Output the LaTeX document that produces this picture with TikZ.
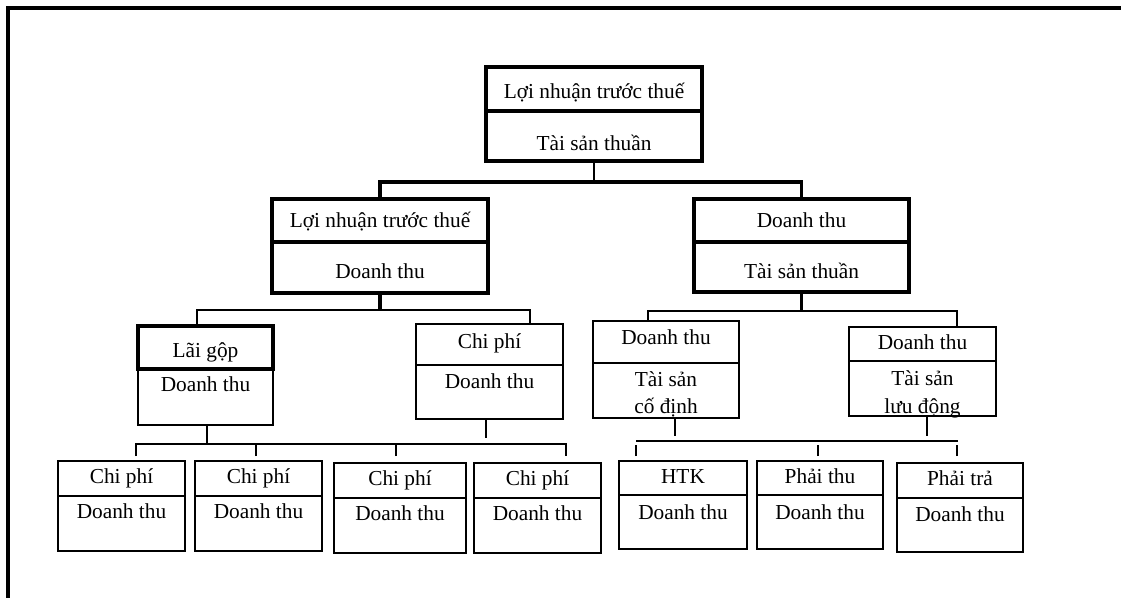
\documentclass[tikz,border=0pt]{standalone}
\usepackage{fontspec}
\setmainfont{Liberation Serif}
\usetikzlibrary{calc}

% two-part box: name, style, left, top, divider, right, bottom (in px units)
\newcommand{\twobox}[7]{%
  \node[partbox,#2,anchor=north west,
        minimum width={(#6-#3)*0.75pt},minimum height={(#7-#4)*0.75pt}] (#1) at (#3,#4) {};
  \draw[#2] (#1.west |- 0,#5) -- (#1.east |- 0,#5);
}

\begin{document}
\begin{tikzpicture}[x=0.75pt,y=-0.75pt,
  thinline/.style={line width=1.15pt},
  thickline/.style={line width=2.4pt},
  partbox/.style={draw,rectangle,inner sep=0pt,outer sep=0pt},
  lbl/.style={anchor=base,inner sep=0pt,font=\fontsize{16}{19}\selectfont},
]
\useasboundingbox (0,0) rectangle (1121,597);

% page frame (top and left edges)
\draw[line width=2.6pt] (8,600) -- (8,8) -- (1125,8);

% ---- level 1
\twobox{T}{thickline}{486}{67}{111}{702}{161}
\node[lbl] (tT1) at (594,98) {Lợi nhuận trước thuế};
\node[lbl] (tT2) at (594,150) {Tài sản thuần};

% ---- level 2
\twobox{M1}{thickline}{272}{199}{242}{488}{293}
\node[lbl] (tM1a) at (380,227) {Lợi nhuận trước thuế};
\node[lbl] (tM1b) at (380,278) {Doanh thu};

\twobox{M2}{thickline}{694}{199}{242}{909}{292}
\node[lbl] (tM2a) at (801.5,227) {Doanh thu};
\node[lbl] (tM2b) at (801.5,278) {Tài sản thuần};

% ---- level 3
\twobox{LG}{thinline}{138}{326}{369}{273}{425}
\draw[thickline] (LG.north west) rectangle (LG.east |- 0,369);
\node[lbl] (tLGa) at (205.5,357) {Lãi gộp};
\node[lbl] (tLGb) at (205.5,391) {Doanh thu};

\twobox{CP}{thinline}{416}{324}{365}{563}{419}
\node[lbl] (tCPa) at (489.5,348) {Chi phí};
\node[lbl] (tCPb) at (489.5,388) {Doanh thu};

\twobox{CD}{thinline}{593}{321}{363}{739}{418}
\node[lbl] (tCDa) at (666,344) {Doanh thu};
\node[lbl] (tCDb) at (666,386) {Tài sản};
\node[lbl] (tCDc) at (666,413) {cố định};

\twobox{LD}{thinline}{849}{327}{361}{996}{416}
\node[lbl] (tLDa) at (922.5,349) {Doanh thu};
\node[lbl] (tLDb) at (922.5,385) {Tài sản};
\node[lbl] (tLDc) at (922.5,413) {lưu động};

% ---- level 4
\twobox{R1}{thinline}{58}{461}{496}{185}{551}
\node[lbl] (tR1a) at (121.5,483) {Chi phí};
\node[lbl] (tR1b) at (121.5,518) {Doanh thu};

\twobox{R2}{thinline}{195}{461}{496}{322}{551}
\node[lbl] (tR2a) at (258.5,483) {Chi phí};
\node[lbl] (tR2b) at (258.5,518) {Doanh thu};

\twobox{R3}{thinline}{334}{463}{498}{466}{553}
\node[lbl] (tR3a) at (400,485) {Chi phí};
\node[lbl] (tR3b) at (400,520) {Doanh thu};

\twobox{R4}{thinline}{474}{463}{498}{601}{553}
\node[lbl] (tR4a) at (537.5,485) {Chi phí};
\node[lbl] (tR4b) at (537.5,520) {Doanh thu};

\twobox{R5}{thinline}{619}{461}{495}{747}{549}
\node[lbl] (tR5a) at (683,483) {HTK};
\node[lbl] (tR5b) at (683,519) {Doanh thu};

\twobox{R6}{thinline}{757}{461}{495}{883}{549}
\node[lbl] (tR6a) at (820,483) {Phải thu};
\node[lbl] (tR6b) at (820,519) {Doanh thu};

\twobox{R7}{thinline}{897}{463}{498}{1023}{552}
\node[lbl] (tR7a) at (960,485) {Phải trả};
\node[lbl] (tR7b) at (960,521) {Doanh thu};

% ---- connectors: level 1 -> level 2
\coordinate (j0) at (T.south |- 0,182);
\draw[thinline] (T.south) -- (j0);
\draw[thickline] (M1.north) |- (j0) -| (M2.north);

% ---- level 2 -> level 3
\coordinate (j1) at (M1.south |- 0,310);
\draw[thickline] (M1.south) -- (j1);
\draw[thinline] (LG.north -| 197,0) |- (j1) -| (CP.north -| 530,0);

\coordinate (j2) at (M2.south |- 0,311);
\draw[thickline] (M2.south) -- (j2);
\draw[thinline] (CD.north -| 648,0) |- (j2) -| (LD.north -| 957,0);

% ---- level 3 -> level 4 (left group)
\coordinate (j3) at (207,444);
\draw[thinline] (LG.south -| 207,0) -- (j3);
\draw[thinline] (CP.south -| 486,0) -- ++(0,19);
\draw[thinline] ($(R1.north -| 136,0)+(0,-5)$) |- (j3) -| ($(R4.north -| 566,0)+(0,-7)$);
\draw[thinline] ($(R2.north -| 256,0)+(0,-5)$) -- ++(0,-12);
\draw[thinline] ($(R3.north -| 396,0)+(0,-7)$) -- ++(0,-12);

% ---- level 3 -> level 4 (right group)
\draw[thinline] (CD.south -| 675,0) -- ++(0,18);
\draw[thinline] (LD.south -| 927,0) -- ++(0,20);
\coordinate (j4a) at (636,441);
\coordinate (j4b) at (958,441);
\draw[thinline] (j4a) -- (j4b);
\draw[thinline] ($(R5.north -| 636,0)+(0,-5)$) -- ++(0,-11);
\draw[thinline] ($(R6.north -| 818,0)+(0,-5)$) -- ++(0,-11);
\draw[thinline] ($(R7.north -| 957,0)+(0,-7)$) -- ++(0,-11);
\end{tikzpicture}
\end{document}
